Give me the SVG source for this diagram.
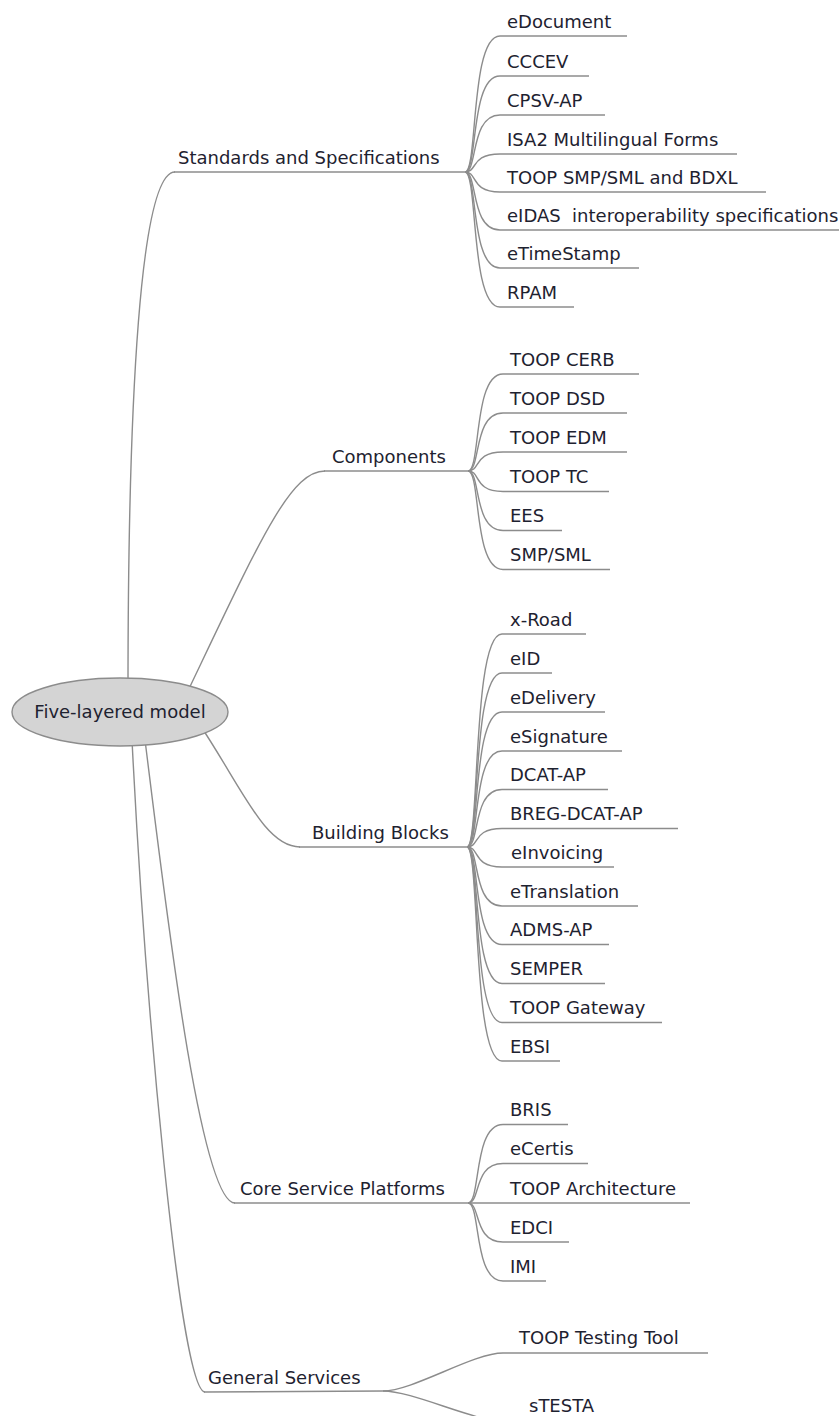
<svg xmlns="http://www.w3.org/2000/svg" width="839" height="1416" viewBox="0 0 839 1416">
<style>
.c{fill:none;stroke:#8c8c8c;stroke-width:1.4}
.u{stroke:#8c8c8c;stroke-width:1.4}
.t{font-family:"DejaVu Sans",Verdana,sans-serif;font-size:18px;fill:#1e2230}
</style>
<rect width="839" height="1416" fill="#fff"/>
<g id="connectors">
<!-- root to level 1 -->
<path class="c" d="M128,690 C128,400 140,172 175,172"/>
<path class="c" d="M185,697 C260,540 290,471 325,471"/>
<path class="c" d="M200,725 C242,788 265,847 300,847"/>
<path class="c" d="M145,740 C165,900 200,1203 235,1203"/>
<path class="c" d="M132,740 C145,1000 180,1392 205,1392"/>
<!-- Standards -->
<path class="c" d="M465,172 C478,172 470,36 500,36"/>
<path class="c" d="M465,172 C478,172 470,76 500,76"/>
<path class="c" d="M465,172 C478,172 470,115 500,115"/>
<path class="c" d="M465,172 C478,172 470,154 500,154"/>
<path class="c" d="M465,172 C478,172 470,192 500,192"/>
<path class="c" d="M465,172 C478,172 470,230 500,230"/>
<path class="c" d="M465,172 C478,172 470,268 500,268"/>
<path class="c" d="M465,172 C478,172 470,307 500,307"/>
<!-- Components -->
<path class="c" d="M468,471 C481,471 473,374 503,374"/>
<path class="c" d="M468,471 C481,471 473,413 503,413"/>
<path class="c" d="M468,471 C481,471 473,452 503,452"/>
<path class="c" d="M468,471 C481,471 473,491.5 503,491.5"/>
<path class="c" d="M468,471 C481,471 473,530.5 503,530.5"/>
<path class="c" d="M468,471 C481,471 473,569.5 503,569.5"/>
<!-- Building Blocks -->
<path class="c" d="M467,847 C480,847 472,634 502,634"/>
<path class="c" d="M467,847 C480,847 472,673 502,673"/>
<path class="c" d="M467,847 C480,847 472,712 502,712"/>
<path class="c" d="M467,847 C480,847 472,751 502,751"/>
<path class="c" d="M467,847 C480,847 472,789.5 502,789.5"/>
<path class="c" d="M467,847 C480,847 472,828.5 502,828.5"/>
<path class="c" d="M467,847 C480,847 472,867 502,867"/>
<path class="c" d="M467,847 C480,847 472,906 502,906"/>
<path class="c" d="M467,847 C480,847 472,944.5 502,944.5"/>
<path class="c" d="M467,847 C480,847 472,983.5 502,983.5"/>
<path class="c" d="M467,847 C480,847 472,1022.5 502,1022.5"/>
<path class="c" d="M467,847 C480,847 472,1061 502,1061"/>
<!-- Core Service Platforms -->
<path class="c" d="M468,1203 C481,1203 473,1124.5 503,1124.5"/>
<path class="c" d="M468,1203 C481,1203 473,1163.5 503,1163.5"/>
<path class="c" d="M468,1203 L503,1203"/>
<path class="c" d="M468,1203 C481,1203 473,1242 503,1242"/>
<path class="c" d="M468,1203 C481,1203 473,1281 503,1281"/>
<!-- General Services -->
<path class="c" d="M383,1391 C413,1391 473,1353 503,1353"/>
<path class="c" d="M383,1391 C413,1391 473,1421 503,1421"/>
</g>
<g id="root">
<ellipse cx="120" cy="712" rx="108" ry="34" fill="#d4d4d4" stroke="#8c8c8c" stroke-width="1.4"/>
<text class="t" x="120" y="718" text-anchor="middle">Five-layered model</text>
</g>
<g id="standards"><line class="u" x1="174" y1="172" x2="465" y2="172"/><text class="t" x="178" y="164">Standards and Specifications</text></g>
<g id="components"><line class="u" x1="324" y1="471" x2="468" y2="471"/><text class="t" x="332" y="462.5">Components</text></g>
<g id="building-blocks"><line class="u" x1="299" y1="847" x2="467" y2="847"/><text class="t" x="312" y="838.5">Building Blocks</text></g>
<g id="core-service-platforms"><line class="u" x1="234" y1="1203" x2="468" y2="1203"/><text class="t" x="240" y="1194.5">Core Service Platforms</text></g>
<g id="general-services"><line class="u" x1="204" y1="1392" x2="383" y2="1391"/><text class="t" x="208" y="1383.5">General Services</text></g>

<g id="edocument"><line class="u" x1="500" y1="36" x2="627" y2="36"/><text class="t" x="507" y="27.5">eDocument</text></g>
<g id="cccev"><line class="u" x1="500" y1="76" x2="589" y2="76"/><text class="t" x="507" y="67.5">CCCEV</text></g>
<g id="cpsv-ap"><line class="u" x1="500" y1="115" x2="605" y2="115"/><text class="t" x="507" y="106.5">CPSV-AP</text></g>
<g id="isa2"><line class="u" x1="500" y1="154" x2="737" y2="154"/><text class="t" x="507" y="145.5">ISA2 Multilingual Forms</text></g>
<g id="toop-smp"><line class="u" x1="500" y1="192" x2="766" y2="192"/><text class="t" x="507" y="183.5">TOOP SMP/SML and BDXL</text></g>
<g id="eidas"><line class="u" x1="500" y1="230" x2="839" y2="230"/><text class="t" x="507" y="221.5" xml:space="preserve">eIDAS  interoperability specifications</text></g>
<g id="etimestamp"><line class="u" x1="500" y1="268" x2="639" y2="268"/><text class="t" x="507" y="259.5">eTimeStamp</text></g>
<g id="rpam"><line class="u" x1="500" y1="307" x2="574" y2="307"/><text class="t" x="507" y="298.5">RPAM</text></g>

<g id="toop-cerb"><line class="u" x1="503" y1="374" x2="639" y2="374"/><text class="t" x="510" y="365.5">TOOP CERB</text></g>
<g id="toop-dsd"><line class="u" x1="503" y1="413" x2="627" y2="413"/><text class="t" x="510" y="404.5">TOOP DSD</text></g>
<g id="toop-edm"><line class="u" x1="503" y1="452" x2="627" y2="452"/><text class="t" x="510" y="443.5">TOOP EDM</text></g>
<g id="toop-tc"><line class="u" x1="503" y1="491.5" x2="609" y2="491.5"/><text class="t" x="510" y="483">TOOP TC</text></g>
<g id="ees"><line class="u" x1="503" y1="530.5" x2="562" y2="530.5"/><text class="t" x="510" y="522">EES</text></g>
<g id="smp-sml"><line class="u" x1="503" y1="569.5" x2="610" y2="569.5"/><text class="t" x="510" y="561">SMP/SML</text></g>

<g id="x-road"><line class="u" x1="502" y1="634" x2="586" y2="634"/><text class="t" x="510" y="625.5">x-Road</text></g>
<g id="eid"><line class="u" x1="502" y1="673" x2="552" y2="673"/><text class="t" x="510" y="664.5">eID</text></g>
<g id="edelivery"><line class="u" x1="502" y1="712" x2="605" y2="712"/><text class="t" x="510" y="703.5">eDelivery</text></g>
<g id="esignature"><line class="u" x1="502" y1="751" x2="622" y2="751"/><text class="t" x="510" y="742.5">eSignature</text></g>
<g id="dcat-ap"><line class="u" x1="502" y1="789.5" x2="608" y2="789.5"/><text class="t" x="510" y="781">DCAT-AP</text></g>
<g id="breg-dcat-ap"><line class="u" x1="502" y1="828.5" x2="678" y2="828.5"/><text class="t" x="510" y="820">BREG-DCAT-AP</text></g>
<g id="einvoicing"><line class="u" x1="502" y1="867" x2="614" y2="867"/><text class="t" x="511" y="858.5">eInvoicing</text></g>
<g id="etranslation"><line class="u" x1="502" y1="906" x2="638" y2="906"/><text class="t" x="510" y="897.5">eTranslation</text></g>
<g id="adms-ap"><line class="u" x1="502" y1="944.5" x2="609" y2="944.5"/><text class="t" x="510" y="936">ADMS-AP</text></g>
<g id="semper"><line class="u" x1="502" y1="983.5" x2="605" y2="983.5"/><text class="t" x="510" y="975">SEMPER</text></g>
<g id="toop-gateway"><line class="u" x1="502" y1="1022.5" x2="662" y2="1022.5"/><text class="t" x="510" y="1014">TOOP Gateway</text></g>
<g id="ebsi"><line class="u" x1="502" y1="1061" x2="560" y2="1061"/><text class="t" x="510" y="1052.5">EBSI</text></g>

<g id="bris"><line class="u" x1="503" y1="1124.5" x2="568" y2="1124.5"/><text class="t" x="510" y="1116">BRIS</text></g>
<g id="ecertis"><line class="u" x1="503" y1="1163.5" x2="588" y2="1163.5"/><text class="t" x="510" y="1155">eCertis</text></g>
<g id="toop-architecture"><line class="u" x1="503" y1="1203" x2="690" y2="1203"/><text class="t" x="510" y="1194.5">TOOP Architecture</text></g>
<g id="edci"><line class="u" x1="503" y1="1242" x2="569" y2="1242"/><text class="t" x="510" y="1233.5">EDCI</text></g>
<g id="imi"><line class="u" x1="503" y1="1281" x2="546" y2="1281"/><text class="t" x="510" y="1272.5">IMI</text></g>

<g id="toop-testing-tool"><line class="u" x1="503" y1="1353" x2="708" y2="1353"/><text class="t" x="519" y="1344">TOOP Testing Tool</text></g>
<g id="stesta"><line class="u" x1="503" y1="1421" x2="600" y2="1421"/><text class="t" x="529" y="1412">sTESTA</text></g>
</svg>
